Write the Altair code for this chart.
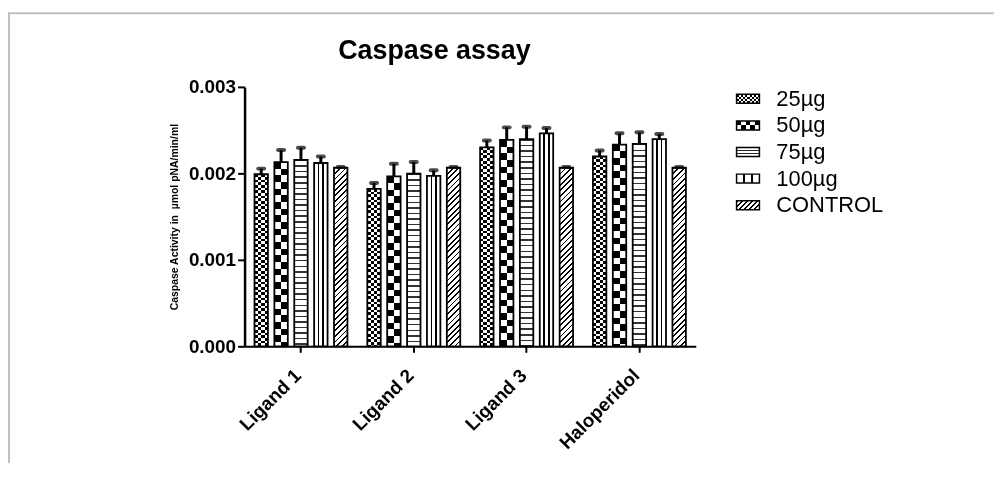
import math
import altair as alt
import pandas as pd

# ---------------- data ----------------
categories = ["Ligand 1", "Ligand 2", "Ligand 3", "Haloperidol"]
series = ["25µg", "50µg", "75µg", "100µg", "CONTROL"]

val_25 = [0.00199, 0.00182, 0.00230, 0.002195]
val_50 = [0.00213, 0.001966, 0.002387, 0.002333]
val_75 = [0.002157, 0.001996, 0.002395, 0.00234]
val_100 = [0.00212, 0.00197, 0.002463, 0.002395]
val_ctrl = [0.002065, 0.002065, 0.002065, 0.002065]

err_25 = [0.000065, 0.00007, 0.00008, 0.00007]
err_50 = [0.00014, 0.000145, 0.000145, 0.00013]
err_75 = [0.00014, 0.000135, 0.000145, 0.000135]
err_100 = [0.000075, 0.000065, 0.000062, 0.00006]
err_ctrl = [0.00001, 0.00001, 0.00001, 0.00001]

y_ticks = [0.0, 0.001, 0.002, 0.003]
chart_title = "Caspase assay"
y_title = "Caspase Activity in\u00a0 µmol pNA/min/ml"

values = {"25µg": val_25, "50µg": val_50, "75µg": val_75, "100µg": val_100, "CONTROL": val_ctrl}
errors = {"25µg": err_25, "50µg": err_50, "75µg": err_75, "100µg": err_100, "CONTROL": err_ctrl}

rows = []
for i, c in enumerate(categories):
    for s in series:
        v = values[s][i]
        e = errors[s][i]
        rows.append({"cat": c, "series": s, "value": v, "hi": v + e})
df = pd.DataFrame(rows)

# ---------------- geometry / style ----------------
W, H = 454, 261
YMAX = 0.003
BAR_W = 13.5
FONT = "Liberation Sans"


def stripes(period, duty, on="black", off="white"):
    stops = []
    t = 0.0
    while t < 1 - 1e-9:
        a = t
        b = min(t + duty * period, 1.0)
        c = min(t + period, 1.0)
        stops.append({"offset": round(a, 5), "color": on})
        stops.append({"offset": round(b, 5), "color": on})
        if b < 1.0:
            stops.append({"offset": round(b, 5), "color": off})
            stops.append({"offset": round(c, 5), "color": off})
        t += period
    return stops


def lines_at(centers, half, on="black", off="white"):
    stops = [{"offset": 0, "color": off}]
    for c in centers:
        stops += [
            {"offset": round(c - half, 5), "color": off},
            {"offset": round(c - half, 5), "color": on},
            {"offset": round(c + half, 5), "color": on},
            {"offset": round(c + half, 5), "color": off},
        ]
    stops.append({"offset": 1, "color": off})
    return stops


def grad(stops, x2, y2):
    return {"gradient": "linear", "x1": 0, "y1": 0, "x2": x2, "y2": y2, "stops": stops}


def pattern(name, w, h, small=False):
    """list of (fill gradient, blend) layers that make up a hatch pattern"""
    if name == "25µg":
        cw, ch = (w / 4, 2.7) if not small else (2.2, 2.25)
        return [(grad(stripes(2 * cw / w, 0.5), 1, 0), None),
                (grad(stripes(2 * ch / h, 0.5), 0, 1), "difference")]
    if name == "50µg":
        cw, ch = (w / 2, 6.7) if not small else (w / 5, 4.5)
        return [(grad(stripes(2 * cw / w, 0.5), 1, 0), None),
                (grad(stripes(2 * ch / h, 0.5), 0, 1), "difference")]
    if name == "75µg":
        if small:
            return [(grad(lines_at([1 / 3, 2 / 3], 0.6 / h, "#222222"), 0, 1), None)]
        p = 5.6
        return [(grad(stripes(p / h, 1.5 / p, "#333333"), 0, 1), None)]
    if name == "100µg":
        return [(grad(lines_at([1 / 3, 2 / 3], 0.8 / w), 1, 0), None)]
    # CONTROL: diagonal hatch "///"
    r = w / h
    s = (r + 1) / (r * r + 1)
    dist = (w + h) / math.sqrt(2)
    p = 4.0 if not small else 3.6
    return [(grad(stripes(p / dist, 1.3 / p), s * r, s), None)]


X = alt.X(
    "cat:N",
    sort=categories,
    title=None,
    scale=alt.Scale(domain=categories, paddingInner=0, paddingOuter=0),
    axis=alt.Axis(
        labelAngle=315, labelAlign="right", labelBaseline="middle",
        labelFont=FONT, labelFontSize=19, labelFontWeight="bold", labelColor="black",
        labelPadding=20, labelOffset=-3,
        tickSize=6, tickWidth=2, tickColor="black",
        domainWidth=2, domainColor="black", title=None,
    ),
)
XO = alt.XOffset(
    "series:N", sort=series,
    scale=alt.Scale(domain=series, paddingInner=0.325, paddingOuter=0.5),
)
YAXIS = alt.Axis(
    values=y_ticks, format=".3f", grid=False, title=y_title,
    labelFont=FONT, labelFontSize=19, labelFontWeight="bold", labelColor="black",
    labelPadding=2, tickSize=7, tickWidth=2, tickColor="black",
    domainWidth=2.5, domainColor="black",
    titleFont=FONT, titleFontSize=10.5, titleFontWeight="bold", titleColor="black",
    titlePadding=9,
)


def Y(field):
    return alt.Y(f"{field}:Q", title=y_title,
                 scale=alt.Scale(domain=[0, YMAX], nice=False, zero=True), axis=YAXIS)


layers = []
base = alt.Chart(df)

# pattern fills, bar by bar
for i, c in enumerate(categories):
    for s in series:
        h = values[s][i] / YMAX * H
        for fill, blend in pattern(s, BAR_W, h):
            kw = {"fill": fill, "strokeWidth": 0}
            if blend:
                kw["blend"] = blend
            layers.append(
                base.transform_filter((alt.datum.cat == c) & (alt.datum.series == s))
                .mark_bar(**kw)
                .encode(x=X, xOffset=XO, y=Y("value"))
            )

# bar outlines
layers.append(
    base.mark_bar(fill="white", fillOpacity=0, stroke="black", strokeWidth=1.8)
    .encode(x=X, xOffset=XO, y=Y("value"))
)
# error bars (upper)
layers.append(
    base.mark_rule(color="black", strokeWidth=3)
    .encode(x=X, xOffset=XO, y=Y("value"), y2="hi:Q")
)
layers.append(
    base.mark_tick(color="black", thickness=4, size=10, cornerRadius=2)
    .encode(x=X, xOffset=XO, y=Y("hi"))
)

# custom legend with hatch swatches
LEG_X0, LEG_X1, LEG_TX = 495, 518, 535
LEG_Y0, LEG_STEP, SW_H = 12, 26.75, 9
for k, s in enumerate(series):
    yc = LEG_Y0 + k * LEG_STEP
    one = pd.DataFrame({"series": [s]})
    for fill, blend in pattern(s, LEG_X1 - LEG_X0, SW_H, small=True):
        kw = {"fill": fill, "strokeWidth": 0}
        if blend:
            kw["blend"] = blend
        layers.append(
            alt.Chart(one).mark_rect(**kw).encode(
                x=alt.value(LEG_X0), x2=alt.value(LEG_X1),
                y=alt.value(yc - SW_H / 2), y2=alt.value(yc + SW_H / 2))
        )
    layers.append(
        alt.Chart(one).mark_rect(fillOpacity=0, fill="white", stroke="black", strokeWidth=1.5).encode(
            x=alt.value(LEG_X0), x2=alt.value(LEG_X1),
            y=alt.value(yc - SW_H / 2), y2=alt.value(yc + SW_H / 2))
    )
    layers.append(
        alt.Chart(one).mark_text(align="left", baseline="middle", font=FONT, fontSize=22, color="black")
        .encode(text="series:N", x=alt.value(LEG_TX), y=alt.value(yc))
    )

# chart title as a text mark (centred over the axis + plot block)
layers.append(
    alt.Chart(pd.DataFrame({"t": [chart_title]}))
    .mark_text(align="center", baseline="alphabetic", font=FONT, fontSize=27,
               fontWeight="bold", color="black")
    .encode(text="t:N", x=alt.value(191), y=alt.value(-28))
)

# light grey frame (top and left edges of the picture)
frame = pd.DataFrame({"k": [0]})
layers.append(
    alt.Chart(frame).mark_rule(color="#c0c0c0", strokeWidth=2)
    .encode(x=alt.value(-240), x2=alt.value(770), y=alt.value(-74))
)
layers.append(
    alt.Chart(frame).mark_rule(color="#c0c0c0", strokeWidth=2)
    .encode(x=alt.value(-237), y=alt.value(-75), y2=alt.value(420))
)

chart = (
    alt.layer(*layers)
    .properties(
        width=W, height=H,
        autosize=alt.AutoSizeParams(type="none"),
        padding={"left": 238, "top": 78, "right": 300, "bottom": 116},
        background="white",
    )
    .configure_view(stroke=None)
)

chart.save("out.html", embed_options={"renderer": "svg", "actions": False})
